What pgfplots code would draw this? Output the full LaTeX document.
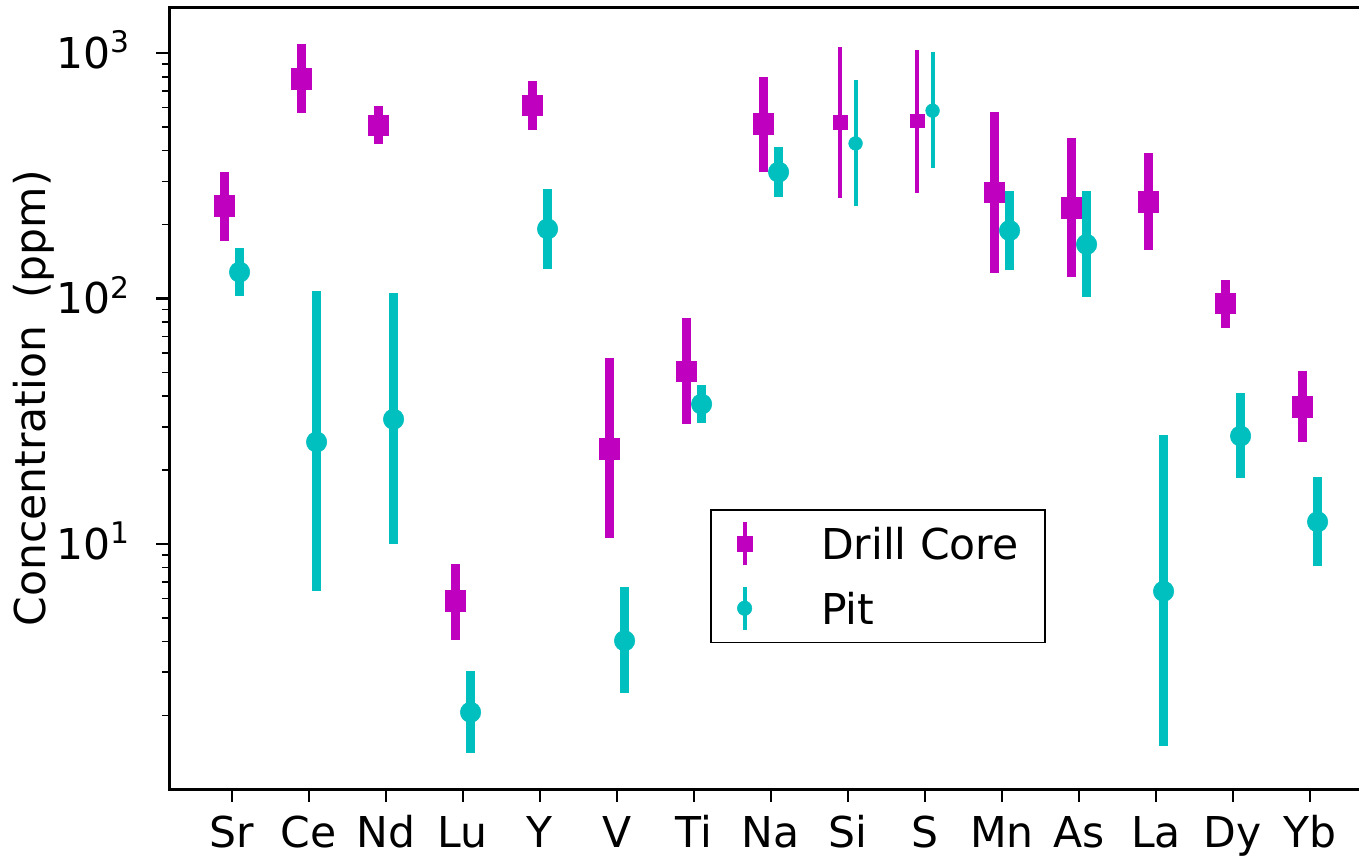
\documentclass[border=0pt]{standalone}
\usepackage{pgfplots}
\pgfplotsset{compat=1.18}
\usepackage{pgfplotstable}
\usepackage{fontspec}
\setmainfont{DejaVu Sans}

\definecolor{mpmagenta}{RGB}{191,0,191}
\definecolor{mpcyan}{RGB}{0,191,191}
\newcommand\lbl{\fontsize{17pt}{20pt}\selectfont}

% position, drill core (median, low, high), pit (median, low, high) in ppm
\pgfplotstableread{
x   dm     dl     dh     pm     pl     ph
0   238    171    327    128    102    160
1   785    572    1091   26.0   6.41   107
2   507    424    608    32.2   10.0   105
3   5.86   4.07   8.30   2.06   1.40   3.04
4   612    485    771    192    132    280
5   24.4   10.6   57.3   4.03   2.47   6.67
6   50.4   30.8   83.0   37.1   31.0   44.2
7   514    327    800    327    258    415
10  271    127    575    189    130    274
11  234    122    449    166    101    275
12  248    158    393    6.41   1.50   27.7
13  95.5   75.7   119    27.5   18.5   41.1
14  36.2   26.0   50.5   12.3   8.09   18.7
}\concmain

% Si and S, drawn with thinner bars
\pgfplotstableread{
x   dm     dl     dh     pm     pl     ph
8   523    257    1055   428    237    776
9   530    270    1029   582    341    1006
}\concthin

\begin{document}
\begin{tikzpicture}
\begin{axis}[
  scale only axis,
  width=481.1pt, height=312.4pt,
  xmin=-0.81, xmax=14.81,
  ymode=log, ymin=1.003, ymax=1525,
  axis line style={line width=1.2pt},
  xtick={0,1,2,3,4,5,6,7,8,9,10,11,12,13,14},
  xticklabels={Sr,Ce,Nd,Lu,Y,V,Ti,Na,Si,S,Mn,As,La,Dy,Yb},
  ytick={10,100,1000},
  yticklabels={10\textsuperscript{1},10\textsuperscript{2},10\textsuperscript{3}},
  minor ytick={2,3,4,5,6,7,8,9,20,30,40,50,60,70,80,90,200,300,400,500,600,700,800,900},
  tick align=outside, xtick pos=bottom, ytick pos=left,
  major tick length=5.2pt, minor tick length=3pt,
  major tick style={line width=0.9pt, black},
  minor tick style={line width=0.6pt, black},
  ticklabel style={font=\lbl},
  xticklabel style={anchor=base, inner sep=0pt, yshift=-18.4pt},
  yticklabel style={anchor=base east, inner sep=0pt, xshift=-10.1pt, yshift=-6.2pt},
  ylabel={Concentration\ \ (ppm)},
  every axis y label/.style={at={(axis description cs:-0.1035,0.5)}, rotate=90, anchor=base, font=\lbl},
  legend style={
    at={(axis description cs:0.4495,0.3585)}, anchor=north west,
    draw=black, line width=0.6pt, fill=white,
    inner xsep=10.6pt, inner ysep=4.2pt,
    row sep=7pt, column sep=27.7pt,
    nodes={inner sep=0pt, text depth=0pt},
    font=\lbl,
  },
  legend cell align=left,
]

% drill core, offset to the left of each element
\addplot[mpmagenta, only marks, mark=square*, mark size=4.1pt,
  mark options={line width=0.2pt},
  error bars/.cd, y dir=both, y explicit, error mark=none,
  error bar style={line width=3.5pt, line cap=butt},
  /pgfplots/legend image code/.code={
    \draw[line width=1.6pt] (0pt,-8.6pt) -- (0pt,8.6pt);
    \path[mark size=2.9pt] plot coordinates {(0pt,0pt)};
  }]
  table[x expr=\thisrow{x}-0.1, y=dm,
        y error plus expr=\thisrow{dh}-\thisrow{dm},
        y error minus expr=\thisrow{dm}-\thisrow{dl}] {\concmain};
\addlegendentry{Drill Core}

% pit, offset to the right
\addplot[mpcyan, only marks, mark=*, mark size=4.1pt,
  mark options={line width=0.2pt},
  error bars/.cd, y dir=both, y explicit, error mark=none,
  error bar style={line width=3.5pt, line cap=butt},
  /pgfplots/legend image code/.code={
    \draw[line width=1.6pt] (0pt,-8.6pt) -- (0pt,8.6pt);
    \path[mark size=2.9pt] plot coordinates {(0pt,0pt)};
  }]
  table[x expr=\thisrow{x}+0.1, y=pm,
        y error plus expr=\thisrow{ph}-\thisrow{pm},
        y error minus expr=\thisrow{pm}-\thisrow{pl}] {\concmain};
\addlegendentry{Pit}

% Si and S
\addplot[mpmagenta, only marks, mark=square*, mark size=2.75pt, forget plot,
  mark options={line width=0.2pt},
  error bars/.cd, y dir=both, y explicit, error mark=none,
  error bar style={line width=1.6pt, line cap=butt}]
  table[x expr=\thisrow{x}-0.1, y=dm,
        y error plus expr=\thisrow{dh}-\thisrow{dm},
        y error minus expr=\thisrow{dm}-\thisrow{dl}] {\concthin};
\addplot[mpcyan, only marks, mark=*, mark size=2.75pt, forget plot,
  mark options={line width=0.2pt},
  error bars/.cd, y dir=both, y explicit, error mark=none,
  error bar style={line width=1.6pt, line cap=butt}]
  table[x expr=\thisrow{x}+0.1, y=pm,
        y error plus expr=\thisrow{ph}-\thisrow{pm},
        y error minus expr=\thisrow{pm}-\thisrow{pl}] {\concthin};
\end{axis}
\pgfresetboundingbox
\path (-67.8pt,-27.2pt) rectangle (475.8pt,315.6pt);
\end{tikzpicture}
\end{document}
